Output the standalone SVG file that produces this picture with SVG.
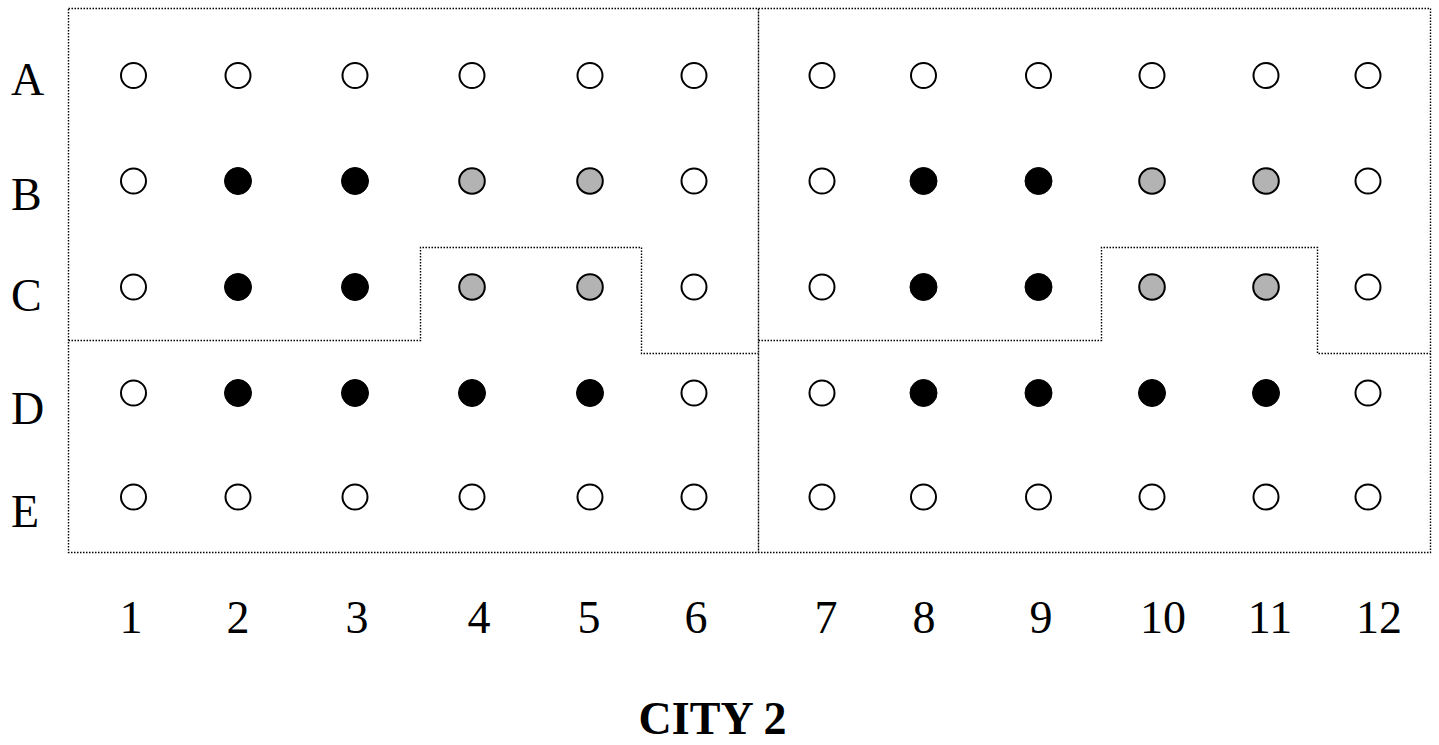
<svg xmlns="http://www.w3.org/2000/svg" width="1439" height="745" viewBox="0 0 1439 745">
<style>
.bd{fill:none;stroke:#000;stroke-width:1.4;stroke-dasharray:1.5,1.5}
.dv{fill:none;stroke:#000;stroke-width:1.4;stroke-dasharray:2,1}
.w{fill:#fff;stroke:#000;stroke-width:2}
.g{fill:#b3b3b3;stroke:#000;stroke-width:2}
.k{fill:#000;stroke:#000;stroke-width:1}
.t{font-family:"Liberation Serif","Times New Roman",serif;font-size:46px;fill:#000}
.tc{font-family:"Liberation Serif","Times New Roman",serif;font-size:46px;font-weight:bold;fill:#000}
</style>
<rect width="1439" height="745" fill="#fff"/>
<g id="connectors">
<rect class="bd" x="68.5" y="8.5" width="1362" height="544"/>
<line class="dv" x1="758.5" y1="8.5" x2="758.5" y2="552.5"/>
<polyline class="bd" points="68.5,340.5 420.5,340.5 420.5,247.5 641.5,247.5 641.5,353.5 758.5,353.5"/>
<polyline class="bd" points="758.5,340.5 1101.5,340.5 1101.5,247.5 1317.5,247.5 1317.5,353.5 1430.5,353.5"/>
</g>
<g id="row-labels">
<text class="t" x="11" y="95">A</text>
<text class="t" x="11" y="210">B</text>
<text class="t" x="11" y="311">C</text>
<text class="t" x="11" y="424">D</text>
<text class="t" x="11" y="527">E</text>
</g>
<g id="col-labels" text-anchor="middle">
<text class="t" x="131" y="633">1</text>
<text class="t" x="238" y="633">2</text>
<text class="t" x="357" y="633">3</text>
<text class="t" x="479" y="633">4</text>
<text class="t" x="589" y="633">5</text>
<text class="t" x="696" y="633">6</text>
<text class="t" x="826" y="633">7</text>
<text class="t" x="924" y="633">8</text>
<text class="t" x="1041" y="633">9</text>
<text class="t" x="1163" y="633">10</text>
<text class="t" x="1270" y="633">11</text>
<text class="t" x="1379" y="633">12</text>
</g>
<g id="rowA">
<circle class="w" cx="133.5" cy="75.5" r="12.5"/><circle class="w" cx="238" cy="75.5" r="12.5"/><circle class="w" cx="355" cy="75.5" r="12.5"/><circle class="w" cx="472" cy="75.5" r="12.5"/><circle class="w" cx="590" cy="75.5" r="12.5"/><circle class="w" cx="694" cy="75.5" r="12.5"/>
<circle class="w" cx="822" cy="75.5" r="12.5"/><circle class="w" cx="923.5" cy="75.5" r="12.5"/><circle class="w" cx="1038.5" cy="75.5" r="12.5"/><circle class="w" cx="1152" cy="75.5" r="12.5"/><circle class="w" cx="1266" cy="75.5" r="12.5"/><circle class="w" cx="1368" cy="75.5" r="12.5"/>
</g>
<g id="rowB">
<circle class="w" cx="133.5" cy="181" r="12.5"/><circle class="k" cx="238" cy="181" r="13.5"/><circle class="k" cx="355" cy="181" r="13.5"/><circle class="g" cx="472" cy="181" r="12.8"/><circle class="g" cx="590" cy="181" r="12.8"/><circle class="w" cx="694" cy="181" r="12.5"/>
<circle class="w" cx="822" cy="181" r="12.5"/><circle class="k" cx="923.5" cy="181" r="13.5"/><circle class="k" cx="1038.5" cy="181" r="13.5"/><circle class="g" cx="1152" cy="181" r="12.8"/><circle class="g" cx="1266" cy="181" r="12.8"/><circle class="w" cx="1368" cy="181" r="12.5"/>
</g>
<g id="rowC">
<circle class="w" cx="133.5" cy="287" r="12.5"/><circle class="k" cx="238" cy="287" r="13.5"/><circle class="k" cx="355" cy="287" r="13.5"/><circle class="g" cx="472" cy="287" r="12.8"/><circle class="g" cx="590" cy="287" r="12.8"/><circle class="w" cx="694" cy="287" r="12.5"/>
<circle class="w" cx="822" cy="287" r="12.5"/><circle class="k" cx="923.5" cy="287" r="13.5"/><circle class="k" cx="1038.5" cy="287" r="13.5"/><circle class="g" cx="1152" cy="287" r="12.8"/><circle class="g" cx="1266" cy="287" r="12.8"/><circle class="w" cx="1368" cy="287" r="12.5"/>
</g>
<g id="rowD">
<circle class="w" cx="133.5" cy="393" r="12.5"/><circle class="k" cx="238" cy="393" r="13.5"/><circle class="k" cx="355" cy="393" r="13.5"/><circle class="k" cx="472" cy="393" r="13.5"/><circle class="k" cx="590" cy="393" r="13.5"/><circle class="w" cx="694" cy="393" r="12.5"/>
<circle class="w" cx="822" cy="393" r="12.5"/><circle class="k" cx="923.5" cy="393" r="13.5"/><circle class="k" cx="1038.5" cy="393" r="13.5"/><circle class="k" cx="1152" cy="393" r="13.5"/><circle class="k" cx="1266" cy="393" r="13.5"/><circle class="w" cx="1368" cy="393" r="12.5"/>
</g>
<g id="rowE">
<circle class="w" cx="133.5" cy="497" r="12.5"/><circle class="w" cx="238" cy="497" r="12.5"/><circle class="w" cx="355" cy="497" r="12.5"/><circle class="w" cx="472" cy="497" r="12.5"/><circle class="w" cx="590" cy="497" r="12.5"/><circle class="w" cx="694" cy="497" r="12.5"/>
<circle class="w" cx="822" cy="497" r="12.5"/><circle class="w" cx="923.5" cy="497" r="12.5"/><circle class="w" cx="1038.5" cy="497" r="12.5"/><circle class="w" cx="1152" cy="497" r="12.5"/><circle class="w" cx="1266" cy="497" r="12.5"/><circle class="w" cx="1368" cy="497" r="12.5"/>
</g>
<g id="title">
<text class="tc" x="712.5" y="734" text-anchor="middle">CITY 2</text>
</g>
</svg>
